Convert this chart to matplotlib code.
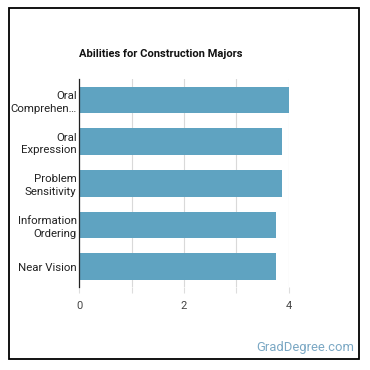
import matplotlib.pyplot as plt
from matplotlib.patches import Rectangle

plt.rcParams['font.family'] = ['Roboto', 'DejaVu Sans']

labels = ["Oral\nComprehen…", "Oral\nExpression", "Problem\nSensitivity",
          "Information\nOrdering", "Near Vision"]
scores = [4.0, 3.88, 3.88, 3.75, 3.75]
xticks = [0, 2, 4]

fig = plt.figure(figsize=(3.7, 3.7), dpi=100)
ax = fig.add_axes([0.2143, 0.223, 0.5657, 0.5635])

ypos = list(range(len(labels)))
ax.barh(ypos, scores, height=0.64, color='#5fa3c1', zorder=2)
ax.set_ylim(len(labels) - 0.5, -0.5)
ax.set_xlim(0, 4)
ax.set_yticks(ypos)
ax.set_yticklabels(labels, fontsize=8.2, color='#222222', linespacing=1.35)
ax.set_xticks([0, 1, 2, 3, 4])
ax.set_xticklabels(["0", "", "2", "", "4"], fontsize=8, color='#444444')
ax.tick_params(axis='y', length=0, pad=2)
ax.tick_params(axis='x', length=4, color='#dddddd', pad=6)
ax.grid(axis='x', color='#d9d9d9', linewidth=0.8, zorder=0)
for s in ['top', 'right', 'bottom']:
    ax.spines[s].set_visible(False)
ax.spines['left'].set_color('#222222')
ax.spines['left'].set_linewidth(0.9)

fig.text(79 / 370, 1 - 54 / 370, "Abilities for Construction Majors",
         fontsize=8, fontweight='bold', color='#111111', va='center', ha='left')
fig.text(354 / 370, 1 - 347 / 370, "GradDegree.com", fontsize=9.4,
         color='#7ba8c4', va='center', ha='right')

fig.patches.append(Rectangle((8.5 / 370, 11 / 370), 350.5 / 370, 351 / 370,
                             transform=fig.transFigure, fill=False,
                             edgecolor='black', linewidth=1.3))

fig.savefig("out.png", dpi=100)
